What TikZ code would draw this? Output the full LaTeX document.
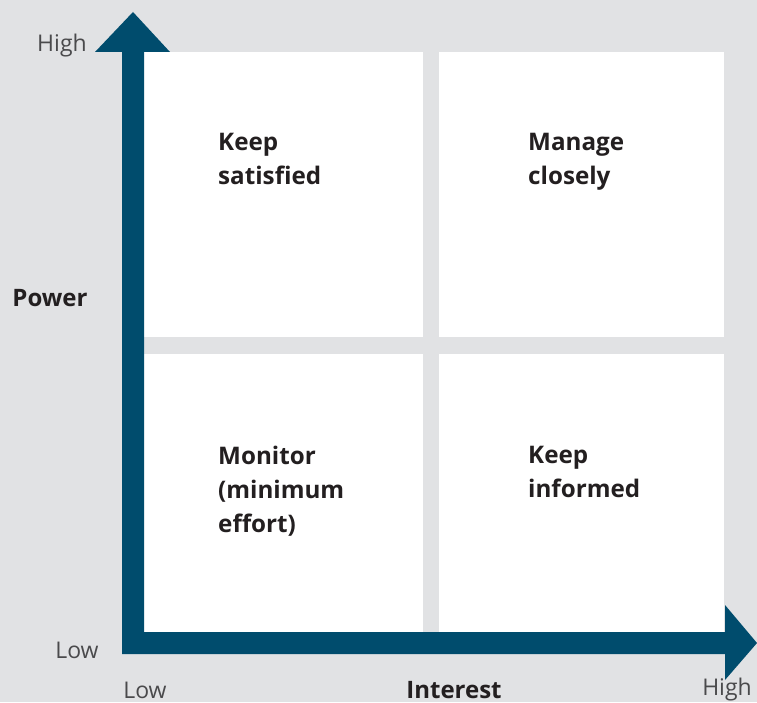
\documentclass[tikz,border=0pt]{standalone}
\usepackage{fontspec}
\setmainfont{Open Sans}
\definecolor{bg}{HTML}{E1E2E4}
\definecolor{axis}{HTML}{004C6D}
\definecolor{txt}{HTML}{231F20}
\definecolor{lbl}{HTML}{4A4A4C}
\begin{document}
\begin{tikzpicture}[x=1pt,y=1pt,
  quad/.style={fill=white,draw=none},
  qtext/.style={anchor=north west,align=left,font=\fontsize{24.2}{34}\selectfont\bfseries,text=txt,inner sep=0pt},
  axlbl/.style={font=\fontsize{23}{26}\selectfont,text=lbl,inner sep=0pt},
  axtitle/.style={font=\fontsize{24}{26}\selectfont\bfseries,text=txt,inner sep=0pt}]
\fill[bg] (0,0) rectangle (757,702);
\useasboundingbox (0,0) rectangle (757,702);
% quadrants (y = 702 - pixel y)
\fill[quad] (144,650) rectangle (423,365);
\fill[quad] (439,650) rectangle (724,365);
\fill[quad] (144,348) rectangle (423,70);
\fill[quad] (439,348) rectangle (724,70);
% axes
\fill[axis] (122,48) -- (122,650) -- (95,650) -- (133,690) -- (170,650) -- (144,650) -- (144,70) -- (725,70) -- (725,97) -- (757,59) -- (725,22) -- (725,48) -- cycle;
% quadrant texts
\node[qtext] (ks) at (218,569) {Keep\\satisfied};
\node[qtext] (mc) at (528,569) {Manage\\closely};
\node[qtext] (mo) at (218,256) {Monitor\\(minimum\\effort)};
\node[qtext] (ki) at (528,256) {Keep\\informed};
% axis labels
\node[axlbl] (ph) at (62,656) {High};
\node[axlbl] (pl) at (77,52) {Low};
\node[axlbl] (il) at (145,12) {Low};
\node[axlbl] (ih) at (727,12) {High};
\node[axtitle] (pw) at (50,404) {Power};
\node[axtitle] (in) at (454,12) {Interest};
\end{tikzpicture}
\end{document}
